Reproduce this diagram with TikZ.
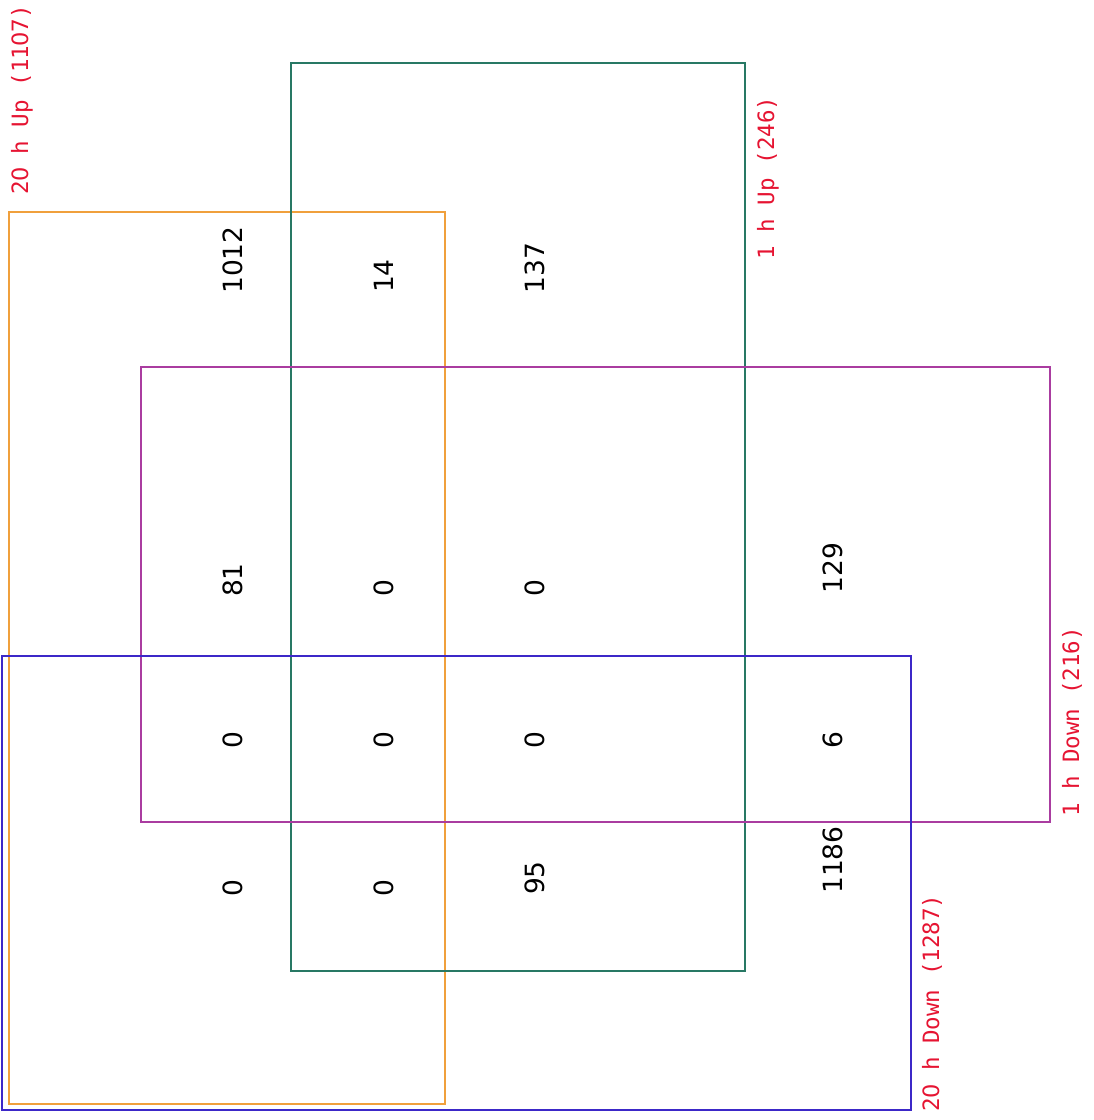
\documentclass[tikz,border=0pt]{standalone}
\usepackage{fontspec}
\setmonofont{DejaVu Sans Mono}
\newfontfamily\djs{DejaVu Sans}
\newcommand\plainzero{\makebox[0.602em]{\djs 0}}
\definecolor{cOrange}{RGB}{240,160,60}
\definecolor{cGreen}{RGB}{40,120,100}
\definecolor{cMagenta}{RGB}{170,60,160}
\definecolor{cBlue}{RGB}{60,40,200}
\definecolor{cRed}{RGB}{230,20,50}
\tikzset{
  setbox/.style={line width=2pt},
  num/.style={rotate=90, font=\djs\fontsize{26.5}{26.5}\selectfont, text=black, inner sep=0pt},
  lab/.style={rotate=90, font=\ttfamily\fontsize{22.5}{22.5}\selectfont, text=cRed, inner sep=0pt}
}
\begin{document}
\begin{tikzpicture}[x=1pt,y=-1pt]
\useasboundingbox (0,0) rectangle (1094,1120);
\fill[white] (0,0) rectangle (1094,1120);
\draw[setbox, cOrange] (9,212) rectangle (445,1104);
\draw[setbox, cGreen] (291,63) rectangle (745,971);
\draw[setbox, cMagenta] (141,367) rectangle (1050,822);
\draw[setbox, cBlue] (2,656) rectangle (911,1110);
\node[lab] (l1) at (22,100) {2\plainzero{} h Up (11\plainzero7)};
\node[lab] (l2) at (768,178) {1 h Up (246)};
\node[lab] (l3) at (1072,722) {1 h Down (216)};
\node[lab] (l4) at (932,1003) {2\plainzero{} h Down (1287)};
\node[num] (n1) at (233,260) {1012};
\node[num] (n2) at (384,276) {14};
\node[num] (n3) at (535,268) {137};
\node[num] (n4) at (233,580) {81};
\node[num] (n5) at (384,588) {0};
\node[num] (n6) at (535,588) {0};
\node[num] (n7) at (833,568) {129};
\node[num] (n8) at (233,740) {0};
\node[num] (n9) at (384,740) {0};
\node[num] (n10) at (535,740) {0};
\node[num] (n11) at (833,740) {6};
\node[num] (n12) at (233,888) {0};
\node[num] (n13) at (384,888) {0};
\node[num] (n14) at (535,878) {95};
\node[num] (n15) at (833,860) {1186};
\end{tikzpicture}
\end{document}
